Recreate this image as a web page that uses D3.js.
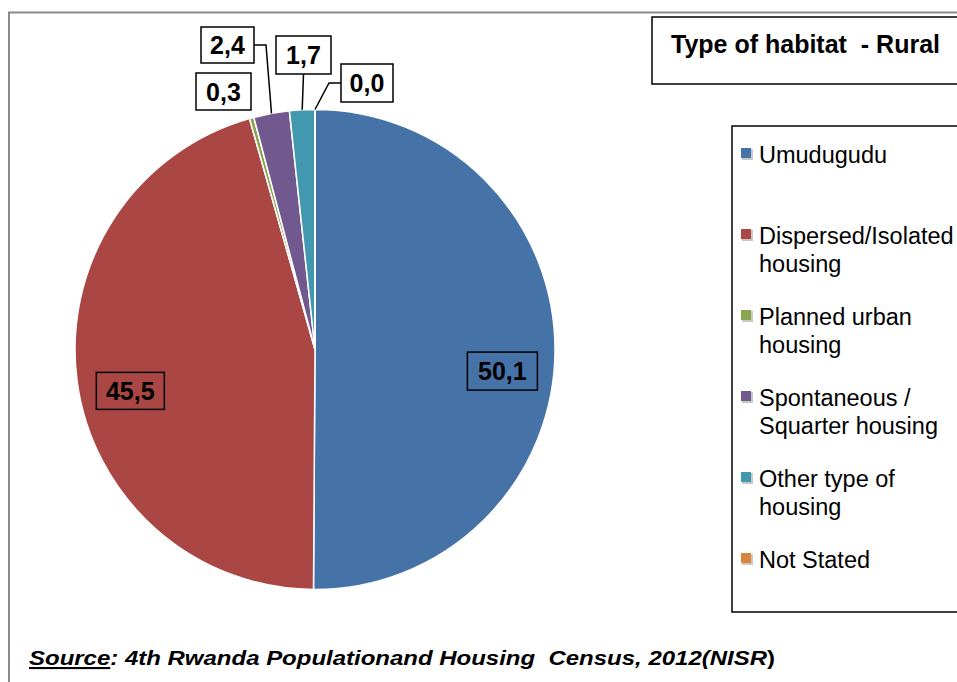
<!DOCTYPE html>
<html>
<head>
<meta charset="utf-8">
<script src="https://cdn.jsdelivr.net/npm/d3@7"></script>
<style>
  body { margin: 0; background: #fff; }
  svg { display: block; font-family: "Liberation Sans", Arial, sans-serif; }
</style>
</head>
<body>
<script>
// data
var categories = ["Umudugudu", "Dispersed/Isolated housing", "Planned urban housing",
                  "Spontaneous / Squarter housing", "Other type of housing", "Not Stated"];
var values = [50.1, 45.5, 0.3, 2.4, 1.7, 0.0];
var valueLabels = ["50,1", "45,5", "0,3", "2,4", "1,7", "0,0"];
var legendLines = [["Umudugudu"], ["Dispersed/Isolated", "housing"], ["Planned urban", "housing"],
                   ["Spontaneous /", "Squarter housing"], ["Other type of", "housing"], ["Not Stated"]];
var colors = ["#4572A7", "#AA4643", "#89A54E", "#71588F", "#4198AF", "#DB843D"];

var width = 957, height = 682;
var cx = 315, cy = 349.5, r = 240;

// label layout: inside labels are offsets from the centroid, outside ones are boxes with leaders
var labelLayout = [
  {inside: true, dx: -1, dy: 21, w: 70, h: 38},
  {inside: true, dx: 2, dy: 16, w: 68, h: 37},
  {inside: false, x: 223.5, y: 91.5, w: 55, h: 37, leader: null},
  {inside: false, x: 227.5, y: 45, w: 53, h: 36, leader: "right"},
  {inside: false, x: 303.5, y: 55, w: 55, h: 38, leader: "bottom"},
  {inside: false, x: 367, y: 83, w: 52, h: 38, leader: "left"}
];

var svg = d3.select("body").append("svg")
    .attr("width", width)
    .attr("height", height);

// outer frame
svg.append("path")
    .attr("d", "M9,682 L9,12.5 L957,12.5")
    .attr("fill", "none")
    .attr("stroke", "#8a8a8a")
    .attr("stroke-width", 2);

var pie = d3.pie().sort(null).value(function(d) { return d; })
    .startAngle(0).endAngle(2 * Math.PI);
var arcs = pie(values);

var arc = d3.arc().innerRadius(0).outerRadius(r);
var labelArc = d3.arc().innerRadius(r * 0.785).outerRadius(r * 0.785);
var edgeArc = d3.arc().innerRadius(r).outerRadius(r);

var g = svg.append("g").attr("transform", "translate(" + cx + "," + cy + ")");

g.selectAll(".slice")
    .data(arcs)
  .enter().append("path")
    .attr("class", "slice")
    .attr("d", arc)
    .attr("fill", function(d, i) { return colors[i]; })
    .attr("stroke", "#fff")
    .attr("stroke-width", 1.5);

// data labels
arcs.forEach(function(d, i) {
  var L = labelLayout[i], px, py;
  if (L.inside) {
    var c = labelArc.centroid(d);
    px = cx + c[0] + L.dx;
    py = cy + c[1] + L.dy;
  } else {
    px = L.x;
    py = L.y;
    var e = edgeArc.centroid(d);
    var ex = cx + e[0], ey = cy + e[1], pts = null;
    if (L.leader == "right") pts = [[px + L.w / 2, py], [px + L.w / 2 + 12, py], [ex, ey]];
    if (L.leader == "left") pts = [[px - L.w / 2, py], [px - L.w / 2 - 12, py], [ex, ey]];
    if (L.leader == "bottom") pts = [[px, py + L.h / 2], [ex, ey]];
    if (pts) {
      svg.append("path")
          .attr("d", d3.line()(pts))
          .attr("fill", "none")
          .attr("stroke", "#000")
          .attr("stroke-width", 1.5);
    }
  }
  svg.append("rect")
      .attr("x", px - L.w / 2)
      .attr("y", py - L.h / 2)
      .attr("width", L.w)
      .attr("height", L.h)
      .attr("fill", L.inside ? "none" : "#fff")
      .attr("stroke", "#000")
      .attr("stroke-width", 1.5);
  svg.append("text")
      .attr("x", px)
      .attr("y", py + 9)
      .attr("text-anchor", "middle")
      .attr("font-size", 25)
      .attr("font-weight", "bold")
      .attr("fill", "#000")
      .text(valueLabels[i]);
});

// title box
svg.append("path")
    .attr("d", "M957,17 L652,17 L652,84 L957,84")
    .attr("fill", "#fff")
    .attr("stroke", "#000")
    .attr("stroke-width", 1.5);
svg.append("text")
    .attr("x", 671)
    .attr("y", 53)
    .attr("font-size", 25)
    .attr("font-weight", "bold")
    .attr("xml:space", "preserve")
    .style("white-space", "pre")
    .text("Type of habitat  - Rural");

// legend
svg.append("path")
    .attr("d", "M957,126 L732,126 L732,612 L957,612")
    .attr("fill", "#fff")
    .attr("stroke", "#000")
    .attr("stroke-width", 1.5);

var legend = svg.selectAll(".legend")
    .data(categories)
  .enter().append("g")
    .attr("class", "legend")
    .attr("transform", function(d, i) { return "translate(0," + (163 + i * 81) + ")"; });

legend.append("rect")
    .attr("x", 742).attr("y", -14)
    .attr("width", 11).attr("height", 11)
    .attr("fill", "#c8c8c8");
legend.append("rect")
    .attr("x", 741).attr("y", -15)
    .attr("width", 10).attr("height", 10)
    .attr("fill", function(d, i) { return colors[i]; });

legend.append("text")
    .attr("x", 759)
    .attr("font-size", 23.5)
    .attr("fill", "#000")
    .selectAll("tspan")
    .data(function(d, i) { return legendLines[i]; })
  .enter().append("tspan")
    .attr("x", 759)
    .attr("dy", function(d, j) { return j ? 28 : 0; })
    .text(function(d) { return d; });

// source note
var src = svg.append("text")
    .attr("x", 29)
    .attr("y", 665)
    .attr("font-size", 21)
    .attr("font-weight", "bold")
    .attr("font-style", "italic")
    .attr("xml:space", "preserve")
    .style("white-space", "pre");
src.append("tspan").attr("text-decoration", "underline").text("Source");
src.append("tspan").text(": 4th Rwanda Populationand Housing  Census, 2012(NISR");
src.append("tspan").attr("font-style", "normal").text(")");
src.attr("textLength", 746).attr("lengthAdjust", "spacingAndGlyphs");
</script>
</body>
</html>
